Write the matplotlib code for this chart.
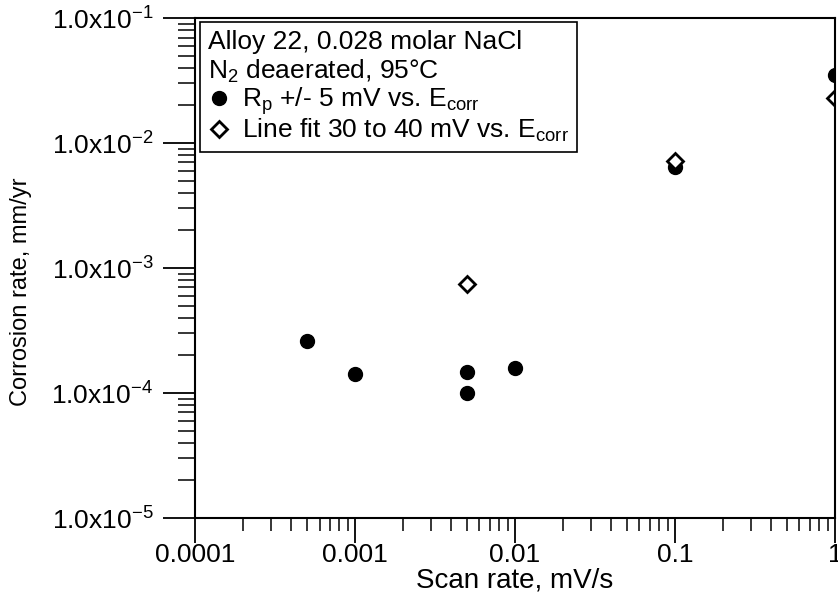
import matplotlib.pyplot as plt
from matplotlib.ticker import FixedLocator, LogLocator, NullFormatter

plt.rcParams['font.family'] = 'Liberation Sans'
plt.rcParams['mathtext.fontset'] = 'custom'
plt.rcParams['mathtext.rm'] = 'Liberation Sans'
plt.rcParams['mathtext.it'] = 'Liberation Sans'

# Rp +/- 5 mV vs Ecorr
rp_scan = [0.0005, 0.001, 0.005, 0.005, 0.01, 0.1, 1.0]
rp_rate = [2.6e-4, 1.43e-4, 1.48e-4, 1.0e-4, 1.6e-4, 6.4e-3, 3.5e-2]
# line fit 30 to 40 mV vs Ecorr
lf_scan = [0.005, 0.1, 1.0]
lf_rate = [7.5e-4, 7.2e-3, 2.3e-2]

xticks = [0.0001, 0.001, 0.01, 0.1, 1]
xlabels = ['0.0001', '0.001', '0.01', '0.1', '1']
yticks = [1e-5, 1e-4, 1e-3, 1e-2, 1e-1]
ylabels = ['1.0x10$^{-5}$', '1.0x10$^{-4}$', '1.0x10$^{-3}$', '1.0x10$^{-2}$', '1.0x10$^{-1}$']

fs = 19

fig = plt.figure(figsize=(8.38, 6.05), dpi=100)
ax = fig.add_axes([0.2327, 0.1438, 0.7637, 0.8262])

ax.plot(rp_scan, rp_rate, 'o', color='black', markersize=10,
        label='R$_\\mathregular{p}$ +/- 5 mV vs. E$_\\mathregular{corr}$')
ax.plot(lf_scan, lf_rate, 'D', markerfacecolor='white', markeredgecolor='black',
        markeredgewidth=2, markersize=8.5,
        label='Line fit 30 to 40 mV vs. E$_\\mathregular{corr}$')

ax.set_xscale('log')
ax.set_yscale('log')
ax.set_xlim(1e-4, 1)
ax.set_ylim(1e-5, 1e-1)

ax.xaxis.set_major_locator(FixedLocator(xticks))
ax.set_xticklabels(xlabels)
ax.yaxis.set_major_locator(FixedLocator(yticks))
ax.set_yticklabels(ylabels)
ax.xaxis.set_minor_locator(LogLocator(base=10, subs=range(2, 10)))
ax.yaxis.set_minor_locator(LogLocator(base=10, subs=range(2, 10)))
ax.xaxis.set_minor_formatter(NullFormatter())
ax.yaxis.set_minor_formatter(NullFormatter())

ax.tick_params(axis='x', which='major', direction='out', length=18, width=1.3, labelsize=fs, pad=0)
ax.tick_params(axis='x', which='minor', direction='out', length=9, width=1.1)
ax.tick_params(axis='y', which='major', direction='out', length=23, width=1.3, labelsize=fs, pad=7)
ax.tick_params(axis='y', which='minor', direction='out', length=12, width=1.1)
for s in ax.spines.values():
    s.set_linewidth(1.5)

ax.set_xlabel('Scan rate, mV/s', fontsize=20, labelpad=0)
ax.set_ylabel('Corrosion rate, mm/yr', fontsize=17)
ax.yaxis.set_label_coords(-0.255, 0.452)

leg = ax.legend(loc='upper left', bbox_to_anchor=(0.008, 0.992), borderaxespad=0,
                title='Alloy 22, 0.028 molar NaCl\nN$_\\mathregular{2}$ deaerated, 95°C',
                fontsize=fs, title_fontsize=fs, fancybox=False, framealpha=1,
                edgecolor='black', handlelength=0.8, handletextpad=0.5,
                borderpad=0.3, labelspacing=0.0)
leg._legend_box.align = 'left'
leg.get_frame().set_linewidth(1.2)

fig.savefig('out.png', dpi=100)
